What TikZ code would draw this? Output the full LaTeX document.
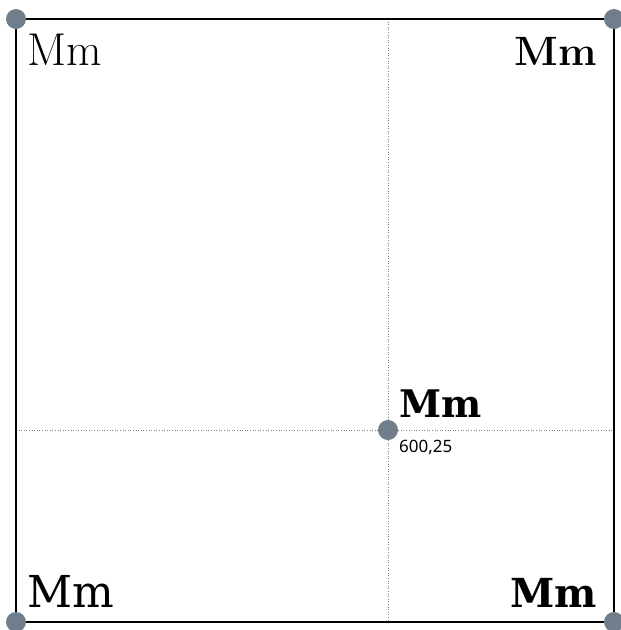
\documentclass[tikz,border=0pt]{standalone}
\usepackage{fontspec}
\newfontfamily\slabfont{DejaVu Serif}
\newfontfamily\smallsans{Noto Sans}
\usepackage{tikz}
\usetikzlibrary{positioning}
\definecolor{dotgrey}{HTML}{6F7E8A}

\begin{document}
\begin{tikzpicture}[
  x=1pt, y=-1pt,
  frame/.style={draw, line width=2pt},
  guide/.style={draw=gray, line width=0.6pt, dotted},
  dot/.style={circle, fill=dotgrey, inner sep=0pt, minimum size=20pt},
  lbl/.style={inner sep=0pt},
]
\useasboundingbox (0,0) rectangle (621,630);

% corners of the frame
\coordinate (tl) at (16,19);
\coordinate (tr) at (614,19);
\coordinate (bl) at (16,622);
\coordinate (br) at (614,622);
\coordinate (pt) at (388,430);

% guide lines through the point
\coordinate (gtop) at (388,19);
\coordinate (gbot) at (388,622);
\coordinate (gleft) at (16,430);
\coordinate (gright) at (614,430);
\path[guide] (gtop) -- (gbot);
\path[guide] (gleft) -- (gright);

% frame
\path[frame] (tl) -- (tr) -- (br) -- (bl) -- cycle;

% dots
\node[dot] (dtl) at (tl) {};
\node[dot] (dtr) at (tr) {};
\node[dot] (dbl) at (bl) {};
\node[dot] (dbr) at (br) {};
\node[dot] (dpt) at (pt) {};

% labels
\node[lbl, anchor=base west, font=\fontsize{46}{46}\selectfont] (ltl) at (27,65) {Mm};
\node[lbl, anchor=base east, font=\fontsize{41}{41}\selectfont\bfseries] (ltr) at (597,65) {Mm};
\node[lbl, anchor=base west, font=\fontsize{38}{38}\slabfont\bfseries] (lpt) at (399,417) {Mm};
\node[lbl, anchor=base west, font=\fontsize{17}{17}\smallsans] (cpt) at (399,452) {600,25};
\node[lbl, anchor=base west, font=\fontsize{44}{44}\slabfont] (lbot) at (27,607) {Mm};
\node[lbl, anchor=base east, font=\fontsize{40}{40}\slabfont\bfseries] (lbr) at (597,607) {Mm};
\end{tikzpicture}
\end{document}
